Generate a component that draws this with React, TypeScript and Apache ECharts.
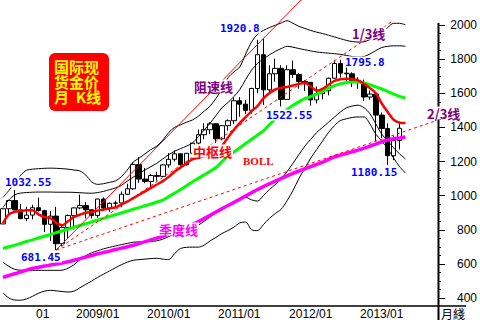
import React, { useEffect, useRef } from "react";
import * as echarts from "echarts";

// ---- categories (monthly) ----
const years = [2008, 2009, 2010, 2011, 2012, 2013, 2014];
const months: string[] = [];
for (const y of years) {
  for (let m = 1; m <= 12; m++) {
    if (months.length < 74) months.push(`${y}/${String(m).padStart(2, "0")}`);
  }
}
const labelYears = ["2009", "2010", "2011", "2012", "2013"];

// ---- OHLC (2008/01 .. 2013/08) ----
const openP = [
  834, 923, 971, 916, 866, 886, 929, 912, 832, 880, 718, 814,
  883, 928, 942, 917, 884, 980, 927, 955, 957, 1008, 1040, 1182,
  1097, 1083, 1118, 1113, 1180, 1213, 1245, 1181, 1248, 1308, 1357, 1386,
  1421, 1333, 1410, 1439, 1556, 1536, 1500, 1628, 1826, 1620, 1714, 1746,
  1564, 1738, 1710, 1669, 1664, 1561, 1598, 1614, 1688, 1774, 1718, 1714,
  1675, 1663, 1578, 1595, 1472, 1393, 1234, 1323,
];
const closeP = [
  923, 971, 916, 865, 886, 929, 912, 832, 880, 718, 814, 883,
  928, 942, 917, 884, 980, 927, 955, 957, 1008, 1040, 1182, 1097,
  1083, 1118, 1113, 1180, 1213, 1245, 1181, 1248, 1308, 1357, 1386, 1421,
  1333, 1410, 1439, 1556, 1536, 1500, 1628, 1826, 1620, 1714, 1746, 1564,
  1738, 1710, 1669, 1664, 1561, 1598, 1614, 1688, 1774, 1718, 1714, 1675,
  1663, 1578, 1595, 1472, 1393, 1234, 1323, 1395,
];
const highP = [
  924, 975, 1032.55, 950, 935, 946, 988, 917, 910, 934, 825, 889,
  931, 1006, 962, 917, 982, 990, 960, 970, 1024, 1070, 1195, 1226,
  1162, 1128, 1140, 1185, 1249, 1265, 1246, 1250, 1307, 1388, 1424, 1431,
  1424, 1411, 1447, 1575, 1577, 1561, 1632, 1913, 1920.8, 1764, 1803, 1764,
  1763, 1792, 1718, 1677, 1666, 1640, 1625, 1692, 1790, 1795.8, 1755, 1723,
  1694, 1680, 1616, 1605, 1488, 1424, 1348, 1433,
];
const lowP = [
  834, 886, 915, 862, 850, 861, 907, 786, 735, 681.45, 705, 748,
  802, 920, 866, 866, 870, 910, 905, 930, 932, 1003, 1034, 1075,
  1073, 1045, 1088, 1112, 1164, 1200, 1155, 1176, 1243, 1300, 1330, 1360,
  1308, 1324, 1381, 1420, 1462, 1478, 1480, 1600, 1532, 1600, 1668, 1522.55,
  1563, 1690, 1627, 1613, 1527, 1541, 1564, 1588, 1687, 1692, 1672, 1636,
  1626, 1555, 1562, 1321, 1338, 1180.15, 1208, 1270,
];

// ---- indicator lines (2008/01 .. 2013/09) ----
const midLine = [
  838, 890, 905, 910, 914, 915, 890, 875, 868, 840, 827, 850,
  875, 888, 900, 905, 912, 918, 925, 932, 948, 965, 985, 1005,
  1025, 1045, 1065, 1085, 1110, 1140, 1165, 1190, 1212, 1222, 1230, 1235,
  1245, 1290, 1340, 1385, 1425, 1460, 1495, 1525, 1570, 1600, 1622, 1632,
  1637, 1645, 1655, 1660, 1640, 1615, 1625, 1650, 1672, 1682, 1685, 1684,
  1675, 1655, 1630, 1600, 1540, 1490, 1445, 1428, 1425,
];
const greenLine = [
  691, 700, 710, 720, 731, 741, 752, 762, 772, 783, 793, 804,
  814, 825, 835, 846, 856, 867, 877, 888, 898, 909, 920, 930,
  941, 951, 962, 973, 994, 1015, 1036, 1058, 1080, 1101, 1122, 1143,
  1165, 1200, 1230, 1255, 1280, 1305, 1330, 1355, 1380, 1415, 1450, 1480,
  1505, 1530, 1550, 1568, 1580, 1595, 1610, 1630, 1645, 1655, 1663, 1666,
  1666, 1660, 1650, 1637, 1625, 1610, 1595, 1582, 1572,
];
const quarterLine = [
  521, 532, 542, 553, 563, 574, 580, 587, 593, 599, 605, 612,
  621, 631, 640, 649, 659, 667, 675, 684, 692, 700, 709, 719,
  730, 740, 751, 762, 776, 790, 804, 818, 832, 847, 866, 885,
  904, 923, 942, 960, 979, 998, 1017, 1036, 1053, 1069, 1085, 1100,
  1116, 1131, 1144, 1157, 1170, 1183, 1196, 1212, 1227, 1237, 1247, 1257,
  1267, 1278, 1290, 1302, 1315, 1327, 1333, 1338, 1343,
];
const bollUpperOuter = [
  990, 1030, 1075, 1120, 1149, 1155, 1158, 1160, 1161, 1160, 1158, 1155,
  1150, 1145, 1120, 1080, 1066, 1070, 1078, 1086, 1110, 1150, 1196, 1220,
  1245, 1270, 1290, 1325, 1370, 1400, 1415, 1430, 1443, 1465, 1495, 1525,
  1570, 1625, 1690, 1725, 1754, 1830, 1900, 1945, 1968, 1985, 1998, 2012,
  2025, 2010, 1992, 1980, 1968, 1958, 1950, 1940, 1930, 1920, 1910, 1903,
  1900, 1902, 1915, 1940, 1960, 1985, 2010, 2010, 2001,
];
const bollUpperInner = [
  930, 975, 1005, 1015, 1018, 1020, 1021, 1021, 1021, 1020, 1020, 1020,
  1019, 1017, 1015, 1014, 1018, 1025, 1035, 1045, 1060, 1085, 1108, 1130,
  1150, 1170, 1190, 1215, 1240, 1260, 1275, 1290, 1308, 1345, 1385, 1425,
  1470, 1515, 1545, 1580, 1621, 1680, 1735, 1775, 1800, 1825, 1845, 1862,
  1875, 1870, 1862, 1855, 1848, 1842, 1838, 1835, 1832, 1828, 1822, 1815,
  1812, 1815, 1830, 1850, 1868, 1875, 1878, 1878, 1875,
];
const bollLowerInner = [
  610, 585, 568, 563, 562, 562, 562, 562, 562, 562, 563, 575,
  595, 625, 648, 665, 677, 688, 697, 705, 713, 720, 727, 729,
  730, 732, 735, 745, 760, 775, 790, 803, 815, 827, 850, 875,
  900, 922, 938, 955, 972, 990, 975, 968, 1000, 1035, 1065, 1100,
  1140, 1190, 1240, 1290, 1330, 1370, 1400, 1430, 1460, 1490, 1514, 1525,
  1530, 1515, 1480, 1420, 1360, 1320, 1280, 1245, 1215,
];
const bollLowerOuter = [
  430, 400, 388, 387, 395, 410, 428, 440, 445, 442, 438, 435,
  440, 460, 480, 500, 521, 540, 558, 577, 595, 610, 621, 625,
  628, 631, 633, 628, 625, 660, 690, 697, 698, 698, 710, 735,
  755, 778, 795, 815, 840, 845, 800, 795, 830, 866, 895, 920,
  970, 1030, 1100, 1160, 1220, 1270, 1320, 1370, 1410, 1440, 1450, 1458,
  1461, 1461, 1420, 1360, 1320, 1275, 1220, 1170, 1132,
];

// ---- speed-resistance lines: [category index, value] end points ----
const resistLine = [[9, 681.45], [51, 2169]];
const oneThirdLine = [[9, 681.45], [66, 2027]];
const twoThirdLine = [[9, 681.45], [73, 1437]];

// ---- title box text ----
const boxTitle = "国际现\n货金价\n月  K线";

const isYearLabel = (v: string) =>
  v.endsWith("/01") && labelYears.includes(v.slice(0, 4));

const numFont = 'bold 11px "DejaVu Sans Mono"';
const cjkFont = 'bold 13px "Noto Sans CJK SC"';
const boxFont = 'bold 15px "Noto Sans CJK SC"';

export default function App() {
  const ref = useRef<HTMLDivElement>(null);
  useEffect(() => {
    if (!ref.current) return;
    const chart = echarts.init(ref.current, undefined, { renderer: "svg" });
    const candleData = openP.map((o, i) => [o, closeP[i], lowP[i], highP[i]]);
    const line = (data: any, color: string, width: number, extra: any = {}) => ({
      type: "line",
      data,
      symbol: "none",
      smooth: extra.smooth !== undefined ? extra.smooth : 0.3,
      clip: false,
      silent: true,
      lineStyle: { color, width, ...(extra.lineStyle || {}) },
    });
    const txt = (
      text: string,
      x: number,
      y: number,
      fill: string,
      font: string,
      bg: boolean = true,
      lh: number = 13
    ) => ({
      type: "text",
      x,
      y,
      z: 100,
      style: {
        text,
        fill,
        font,
        lineHeight: lh,
        textAlign: "left",
        textVerticalAlign: "middle",
        ...(bg ? { backgroundColor: "#ffffff", padding: [0, 1, 0, 1] } : {}),
      },
    });
    chart.setOption({
      animation: false,
      backgroundColor: "#ffffff",
      grid: { left: 0, right: 42, top: 25, bottom: 22, containLabel: false },
      xAxis: {
        type: "category",
        data: months,
        boundaryGap: true,
        offset: 8,
        axisLine: { lineStyle: { color: "#000", width: 1.5 } },
        axisTick: {
          alignWithLabel: true,
          interval: (_i: number, v: string) => isYearLabel(v),
          length: 14,
          lineStyle: { color: "#000", width: 1 },
        },
        axisLabel: {
          interval: (_i: number, v: string) => isYearLabel(v),
          align: "left",
          margin: 2,
          padding: [0, 0, 0, 2],
          color: "#000",
          fontSize: 12,
          fontFamily: "Liberation Sans",
        },
        splitLine: { show: false },
      },
      yAxis: {
        type: "value",
        position: "right",
        min: 400,
        max: 2000,
        interval: 200,
        axisLine: { show: false },
        axisTick: { show: true, length: 7, lineStyle: { color: "#000", width: 1 } },
        minorTick: { show: true, splitNumber: 4, length: 3, lineStyle: { color: "#000" } },
        axisLabel: {
          align: "right",
          margin: 39,
          color: "#000",
          fontSize: 12,
          fontFamily: "Liberation Sans",
          formatter: (v: number) => String(v),
        },
        splitLine: { show: false },
        minorSplitLine: { show: false },
      },
      series: [
        line(bollUpperOuter, "#000", 1),
        line(bollUpperInner, "#000", 1),
        line(bollLowerInner, "#000", 1),
        line(bollLowerOuter, "#000", 1),
        {
          type: "candlestick",
          data: candleData,
          barWidth: 5,
          silent: true,
          itemStyle: {
            color: "#ffffff",
            color0: "#000000",
            borderColor: "#000000",
            borderColor0: "#000000",
            borderWidth: 1,
          },
        },
        line(quarterLine, "#ff00ff", 3.5),
        line(greenLine, "#00ff00", 3),
        line(midLine, "#ff0000", 2.5),
        line(resistLine, "#ff0000", 1, { smooth: false }),
        line(oneThirdLine, "#ff0000", 1, { smooth: false, lineStyle: { type: [3, 3] } }),
        line(twoThirdLine, "#ff0000", 1, { smooth: false, lineStyle: { type: [3, 3] } }),
      ],
      graphic: [
        { type: "line", z: 100, shape: { x1: 438.5, y1: 23, x2: 438.5, y2: 320 }, style: { stroke: "#000", lineWidth: 2 } },
        { type: "line", z: 100, shape: { x1: 438, y1: 306, x2: 466, y2: 306 }, style: { stroke: "#000", lineWidth: 1.5 } },
        txt("月綫", 441, 313, "#000", '12px "Noto Sans CJK SC"', false, 12),
        txt("01", 36, 314, "#000", '12px "Liberation Sans"', false, 12),
        { type: "rect", z: 99, shape: { x: 49, y: 53, width: 60, height: 58, r: 6 }, style: { fill: "#ff0000" } },
        txt(boxTitle, 54, 81, "#ffff00", boxFont, false, 15),
        txt("1032.55", 4, 182, "#0000ff", numFont, true, 11),
        txt("681.45", 20, 257, "#0000ff", numFont, true, 11),
        txt("1920.8", 219, 28, "#0000ff", numFont, true, 11),
        txt("1522.55", 265, 115, "#0000ff", numFont, true, 11),
        txt("1795.8", 344, 62, "#0000ff", numFont, true, 11),
        txt("1180.15", 350, 172, "#0000ff", numFont, true, 11),
        txt("阻速线", 193, 86, "#800080", cjkFont),
        txt("1/3线", 351, 33, "#800080", cjkFont),
        txt("2/3线", 426, 113, "#800080", cjkFont),
        txt("中枢线", 192, 151, "#ff0000", cjkFont),
        txt("BOLL", 242, 161, "#ff0000", 'bold 11px "Liberation Serif"', true, 11),
        txt("季度线", 158, 229, "#ff00ff", cjkFont),
      ],
    });
    return () => chart.dispose();
  }, []);
  return (
    <div
      ref={ref}
      style={{ position: "fixed", left: 0, top: 0, width: 480, height: 320, background: "#fff" }}
    />
  );
}
